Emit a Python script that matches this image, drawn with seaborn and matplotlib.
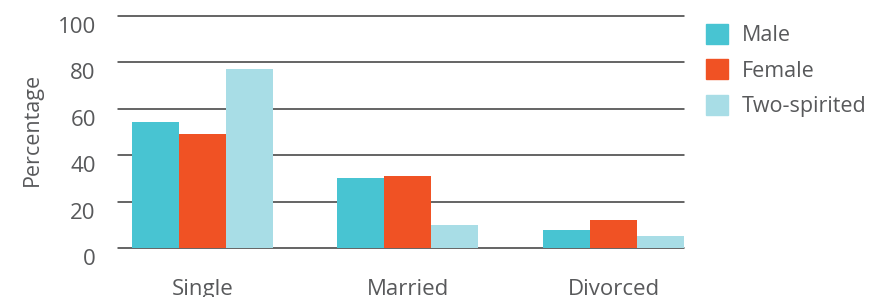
import pandas as pd
import matplotlib.pyplot as plt
import matplotlib.transforms as mtransforms
import seaborn as sns

statuses = ["Single", "Married", "Divorced"]
male = [54.5, 30.3, 7.9]
female = [49.2, 31.1, 12.2]
two_spirited = [77.3, 10.0, 5.3]
groups = ["Male", "Female", "Two-spirited"]
colors = ["#48C4D2", "#F05224", "#A8DDE6"]

df = pd.DataFrame({
    "status": statuses * 3,
    "group": [g for g in groups for _ in statuses],
    "pct": male + female + two_spirited,
})

sns.set_style("white")
plt.rcParams["font.family"] = ["Open Sans", "DejaVu Sans"]
grey = "#58595b"

fig = plt.figure(figsize=(8.72, 2.97), dpi=100)
ax = fig.add_axes([118 / 872, 48.7 / 297, 566 / 872, 232.3 / 297])

sns.barplot(data=df, x="status", y="pct", hue="group", palette=colors,
            width=0.686, saturation=1, linewidth=0, ax=ax, legend=False)

ax.set_xlim(-0.411, 2.343)
ax.set_ylim(0, 100)
ax.set_yticks(range(0, 101, 20))
for y in range(0, 101, 20):
    ax.axhline(y, color="#3a3a3a", lw=1.1, zorder=0, clip_on=False)
for s in ax.spines.values():
    s.set_visible(False)
ax.tick_params(axis="both", length=0, labelsize=16, labelcolor=grey)
ax.tick_params(axis="y", pad=16)
ax.tick_params(axis="x", pad=22)
ax.set_xlabel("")
ax.set_ylabel("Percentage", fontsize=15.5, color=grey)
ax.yaxis.set_label_coords(-0.132, 0.51)

# tick labels sit a little below their gridlines in the original
shift = mtransforms.ScaledTranslation(0, -9 / 100, fig.dpi_scale_trans)
for lab in ax.get_yticklabels():
    lab.set_transform(lab.get_transform() + shift)

handles = [plt.Rectangle((0, 0), 1, 1, color=c) for c in colors]
fig.legend(handles, groups, loc="upper left", bbox_to_anchor=(695 / 872, 1 - 13 / 297),
           frameon=False, fontsize=15.5, labelcolor=grey, handlelength=1.05,
           handleheight=1.05, handletextpad=0.62, labelspacing=0.62, borderpad=0)

fig.savefig("out.png", dpi=100)
